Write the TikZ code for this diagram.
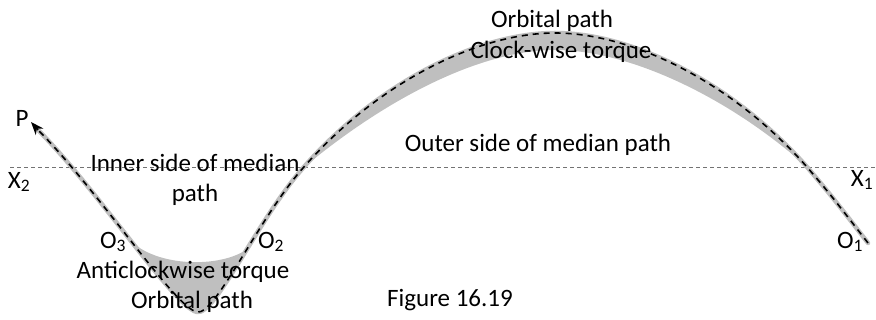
\documentclass[tikz,border=0pt]{standalone}
\usepackage{fontspec}
\setmainfont{Carlito}
\usetikzlibrary{arrows.meta}
\begin{document}
\begin{tikzpicture}[x=1pt,y=-1pt,
  lbl/.style={inner sep=0pt,font=\fontsize{25}{30}\selectfont,align=center},
  band/.style={draw=black!25,line width=4.5pt,line cap=round,line join=round},
  bandfill/.style={fill=black!25},
  median/.style={draw=black,line width=1.6pt,dash pattern=on 6pt off 5pt},
  axis/.style={draw=black!55,line width=0.6pt,dash pattern=on 4pt off 3pt}]
\useasboundingbox (0,0) rectangle (876,320);
% key points of the median path
\coordinate (start) at (38,130);
\coordinate (trough) at (197,312);
\coordinate (c2) at (303,168);
\coordinate (peak) at (555,33);
\coordinate (c1) at (807,167);
\coordinate (end) at (868,243);
% horizontal median line
\coordinate (xl) at (10,167);
\coordinate (xr) at (876,167);
\draw[axis] (xl) -- (xr);
% shaded torque areas
\begin{scope}
  \clip (start) .. controls (98,190) and (175,308) .. (trough)
        .. controls (215,316) and (258,219) .. (c2) -- cycle;
  \fill[bandfill] (132,242) .. controls (160,268) and (225,268) .. (250,247) -- (250,330) -- (132,330) -- cycle;
\end{scope}
\begin{scope}
  \clip (c2) .. controls (380,80) and (480,33) .. (peak)
        .. controls (630,33) and (730,80) .. (c1) -- cycle;
  \fill[bandfill] (c2) .. controls (388,97) and (482,50) .. (555,50)
        .. controls (630,50) and (730,98) .. (c1) -- (c1 |- 0,0) -- (c2 |- 0,0) -- cycle;
\end{scope}
% orbital path band
\draw[band] (start) .. controls (98,190) and (175,308) .. (trough)
        .. controls (215,316) and (258,219) .. (c2)
        .. controls (380,80) and (480,33) .. (peak)
        .. controls (630,33) and (730,80) .. (c1)
        .. controls (830,194) .. (end);
% median (dashed) path
\draw[median] (end) .. controls (830,194) .. (c1)
        .. controls (730,80) and (630,33) .. (peak)
        .. controls (480,33) and (380,80) .. (c2)
        .. controls (258,219) and (215,316) .. (trough)
        .. controls (175,308) and (98,190) .. (start);
\coordinate (tip) at (31,122);
\draw[-{Stealth[length=13pt,width=10pt]},line width=1.6pt] (start) -- (tip);
% labels
\node[lbl] (orbtop) at (552,21) {Orbital path};
\node[lbl] (cw) at (561,52) {Clock-wise torque};
\node[lbl] (outer) at (538,145) {Outer side of median path};
\node[lbl] (inner) at (195,180) {Inner side of median\\path};
\node[lbl] (o3) at (113,242) {O\textsubscript{3}};
\node[lbl] (o2) at (271,242) {O\textsubscript{2}};
\node[lbl] (acw) at (183,272) {Anticlockwise torque};
\node[lbl] (orbbot) at (192,302) {Orbital path};
\node[lbl] (fig) at (450,300) {Figure 16.19};
\node[lbl] (p) at (22,118) {P};
\node[lbl] (x2) at (19,182) {X\textsubscript{2}};
\node[lbl] (x1) at (862,180) {X\textsubscript{1}};
\node[lbl] (o1) at (850,242) {O\textsubscript{1}};
\end{tikzpicture}
\end{document}
